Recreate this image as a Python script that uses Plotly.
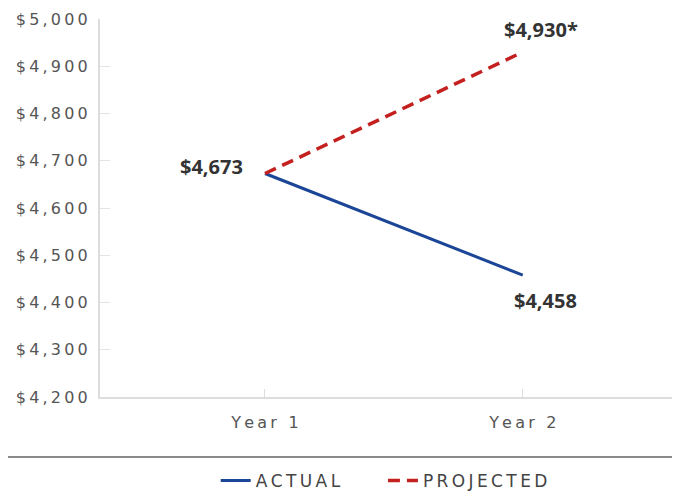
import plotly.graph_objects as go

categories = ["Year 1", "Year 2"]
actual = [4673, 4458]
projected = [4673, 4930]
actual_labels = ["$4,673", "$4,458"]
projected_labels = ["$4,673", "$4,930*"]
y_ticks = [4200, 4300, 4400, 4500, 4600, 4700, 4800, 4900, 5000]

def spaced(s, sp="\u2009"):
    return sp.join(list(s))

BLUE = "#1b4596"
RED = "#c4201f"

fig = go.Figure()
fig.add_trace(go.Scatter(x=categories, y=actual, mode="lines", name=spaced("ACTUAL") + "\u00a0" * 7,
                         line=dict(color=BLUE, width=3)))
fig.add_trace(go.Scatter(x=categories, y=projected, mode="lines", name=spaced("PROJECTED"),
                         line=dict(color=RED, width=3.5, dash="12px,7px")))

lab_font = dict(family="Open Sans", size=20, color="#333333")
fig.add_annotation(x=categories[0], y=actual[0], text="<b>%s</b>" % actual_labels[0], showarrow=False,
                   xanchor="right", yanchor="middle", xshift=-20, yshift=7, font=lab_font)
fig.add_annotation(x=categories[1], y=projected[1], text="<b>%s</b>" % projected_labels[1], showarrow=False,
                   xanchor="center", yanchor="middle", xshift=18, yshift=23, font=lab_font)
fig.add_annotation(x=categories[1], y=actual[1], text="<b>%s</b>" % actual_labels[1], showarrow=False,
                   xanchor="center", yanchor="middle", xshift=23, yshift=-25, font=lab_font)

fig.add_shape(type="line", xref="paper", yref="paper", x0=-92/580, x1=1, y0=-60/378, y1=-60/378,
              line=dict(color="#8a8a8a", width=2))

tick_font = dict(family="DejaVu Sans", size=16, color="#555555")
fig.update_xaxes(type="category", range=[-0.64, 1.61], showline=True, linecolor="#dddddd", linewidth=2,
                 ticks="inside", ticklen=8, tickcolor="#dddddd", showgrid=False, zeroline=False,
                 tickfont=tick_font, ticktext=[spaced(c) for c in categories], tickvals=categories,
                 ticklabelstandoff=10)
fig.update_yaxes(range=[4200, 5000], showline=True, linecolor="#dddddd", linewidth=2,
                 ticks="inside", ticklen=10, tickcolor="#e4e4e4", showgrid=False, zeroline=False,
                 tickvals=y_ticks, ticktext=[spaced("${:,}".format(v)) for v in y_ticks],
                 tickfont=tick_font, ticklabelstandoff=7)

fig.update_layout(width=672, height=485, margin=dict(l=92, r=0, t=11, b=96, autoexpand=False),
                  paper_bgcolor="white", plot_bgcolor="white", showlegend=True,
                  legend=dict(orientation="h", x=0.49, xanchor="center", yref="container",
                              y=(485 - 473) / 485, yanchor="middle",
                              font=dict(family="DejaVu Sans", size=17, color="#444444"),
                              itemwidth=30, tracegroupgap=0))

fig.write_html("out.html")
